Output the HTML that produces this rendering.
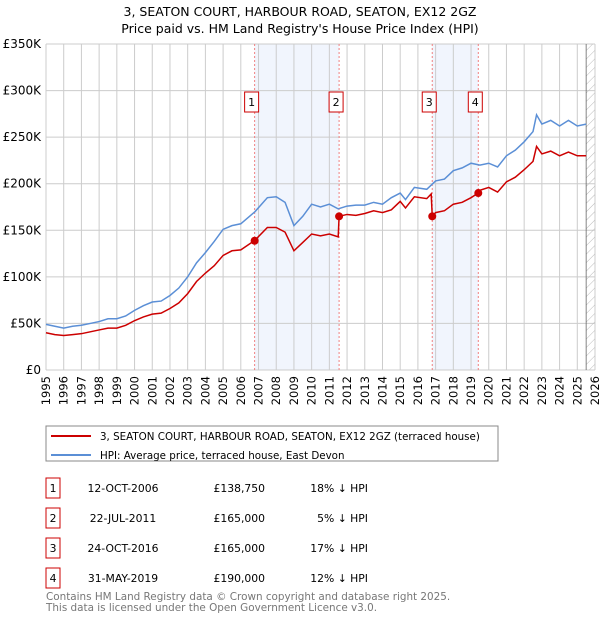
<!DOCTYPE html>
<html><head><meta charset="utf-8"><style>
body{margin:0;background:#fff;width:600px;height:620px;overflow:hidden;font-family:"DejaVu Sans","Liberation Sans",sans-serif}
svg text{font-family:"DejaVu Sans","Liberation Sans",sans-serif}
</style></head><body>
<svg id="c" width="600" height="620" xmlns="http://www.w3.org/2000/svg">
<defs><pattern id="hatch" width="6" height="6" patternUnits="userSpaceOnUse" patternTransform="rotate(45)"><line x1="0" y1="0" x2="0" y2="6" stroke="#bbb" stroke-width="1"/></pattern></defs>
<text x="300" y="16" text-anchor="middle" font-size="12.5">3, SEATON COURT, HARBOUR ROAD, SEATON, EX12 2GZ</text>
<text x="300" y="33" text-anchor="middle" font-size="12.5">Price paid vs. HM Land Registry's House Price Index (HPI)</text>
<g id="plot"></g>
<rect x="46" y="426" width="452" height="35" fill="#fff" stroke="#888"/>
<line x1="51" y1="436" x2="91" y2="436" stroke="#cc0000" stroke-width="2"/>
<text x="100" y="440" font-size="10.3">3, SEATON COURT, HARBOUR ROAD, SEATON, EX12 2GZ (terraced house)</text>
<line x1="51" y1="455" x2="91" y2="455" stroke="#5b8fd6" stroke-width="2"/>
<text x="100" y="459" font-size="10.3">HPI: Average price, terraced house, East Devon</text>
<g id="table" font-size="10.8"></g>
<text x="46" y="600" font-size="10.4" fill="#777">Contains HM Land Registry data © Crown copyright and database right 2025.</text>
<text x="46" y="611" font-size="10.4" fill="#777">This data is licensed under the Open Government Licence v3.0.</text>
</svg>
<script>
const hpiYears=[1995,1995.5,1996,1996.5,1997,1997.5,1998,1998.5,1999,1999.5,2000,2000.5,2001,2001.5,2002,2002.5,2003,2003.5,2004,2004.5,2005,2005.5,2006,2006.8,2007.5,2008,2008.5,2009,2009.5,2010,2010.5,2011,2011.5,2012,2012.5,2013,2013.5,2014,2014.5,2015,2015.3,2015.8,2016.5,2017,2017.5,2018,2018.5,2019,2019.5,2020,2020.5,2021,2021.5,2022,2022.5,2022.7,2023,2023.5,2024,2024.5,2025,2025.5];
const hpiValues=[49,47,45,47,48,50,52,55,55,58,64,69,73,74,80,88,100,115,126,138,151,155,157,170,185,186,180,155,165,178,175,178,173,176,177,177,180,178,185,190,183,196,194,203,205,214,217,222,220,222,218,230,236,245,256,274,264,268,262,268,262,264];
const redYears=[1995,1995.5,1996,1996.5,1997,1997.5,1998,1998.5,1999,1999.5,2000,2000.5,2001,2001.5,2002,2002.5,2003,2003.5,2004,2004.5,2005,2005.5,2006,2006.78,2007.5,2008,2008.5,2009,2009.5,2010,2010.5,2011,2011.5,2011.55,2012,2012.5,2013,2013.5,2014,2014.5,2015,2015.3,2015.8,2016.5,2016.75,2016.81,2017,2017.5,2018,2018.5,2019,2019.41,2019.5,2020,2020.5,2021,2021.5,2022,2022.5,2022.7,2023,2023.5,2024,2024.5,2025,2025.5];
const redValues=[40,38,37,38,39,41,43,45,45,48,53,57,60,61,66,72,82,95,104,112,123,128,129,139,153,153,148,128,137,146,144,146,143,165,167,166,168,171,169,172,181,174,186,184,189,165,169,171,178,180,185,190,193,196,191,202,207,215,224,240,232,235,230,234,230,230];
const saleYears=[2006.78,2011.55,2016.81,2019.41];
const salePrices=[138.75,165,165,190];
const saleLabels=["1","2","3","4"];
const saleDates=["12-OCT-2006","22-JUL-2011","24-OCT-2016","31-MAY-2019"];
const salePriceText=["£138,750","£165,000","£165,000","£190,000"];
const saleHpiText=["18% ↓ HPI","5% ↓ HPI","17% ↓ HPI","12% ↓ HPI"];
const yTicks=[0,50,100,150,200,250,300,350];
const yTickLabels=["£0","£50K","£100K","£150K","£200K","£250K","£300K","£350K"];

const NS="http://www.w3.org/2000/svg";
const X0=46,X1=595,Y0=370,Y1=44,YR0=1995,YR1=2026;
const xs=y=>X0+(y-YR0)/(YR1-YR0)*(X1-X0);
const ys=v=>Y0-v/350*(Y0-Y1);
const plot=document.getElementById('plot');
function mk(tag,attrs,parent){const e=document.createElementNS(NS,tag);for(const k in attrs)e.setAttribute(k,attrs[k]);(parent||plot).appendChild(e);return e;}
mk('rect',{x:X0,y:Y1,width:X1-X0,height:Y0-Y1,fill:'#fff'});
for(let i=0;i<saleYears.length;i+=2){
 const r=mk('rect',{x:xs(saleYears[i]),y:Y1,width:xs(saleYears[i+1])-xs(saleYears[i]),height:Y0-Y1,fill:'#eef3fc',opacity:0.8});
 
 
}
for(let y=YR0;y<=YR1;y++){
 const l=mk('line',{x1:xs(y),x2:xs(y),y1:Y1,y2:Y0,stroke:'#ccc','stroke-width':1});
 
 
 const t=mk('text',{x:0,y:0,'font-size':11.5,'text-anchor':'end',transform:`translate(${xs(y)+4},${Y0+6}) rotate(-90)`});
 t.textContent=y;
 
 
}
yTicks.forEach((v,i)=>{
 const l=mk('line',{x1:X0,x2:X1,y1:ys(v),y2:ys(v),stroke:'#ccc','stroke-width':1});
 
 
 const t=mk('text',{x:X0-5,y:ys(v)+4,'font-size':12,'text-anchor':'end'});
 t.textContent=yTickLabels[i];
 
 
});
const h=mk('rect',{x:xs(2025.5),y:Y1,width:X1-xs(2025.5),height:Y0-Y1,fill:'url(#hatch)'});


mk('line',{x1:xs(2025.5),x2:xs(2025.5),y1:Y1,y2:Y0,stroke:'#666','stroke-width':0.8});
saleYears.forEach((y,i)=>{
 const l=mk('line',{x1:xs(y),x2:xs(y),y1:Y1,y2:Y0,stroke:'#f08080','stroke-width':1,'stroke-dasharray':'2,2'});
 
 
 const b=mk('rect',{x:xs(y)-10,y:92,width:14,height:20,fill:'#fff',stroke:'#cc0000'});
 
 
 const t=mk('text',{x:xs(y)-3,y:106,'font-size':11,'text-anchor':'middle'});
 t.textContent=saleLabels[i];
 
 
});
const hp=mk('polyline',{points:hpiYears.map((y,i)=>xs(y)+','+ys(hpiValues[i])).join(' '),fill:'none',stroke:'#5b8fd6','stroke-width':1.5});


const rp=mk('polyline',{points:redYears.map((y,i)=>xs(y)+','+ys(redValues[i])).join(' '),fill:'none',stroke:'#cc0000','stroke-width':1.5});


saleYears.forEach((y,i)=>{
 const c=mk('circle',{cx:xs(y),cy:ys(salePrices[i]),r:4,fill:'#cc0000'});
 
 
});
const tb=document.getElementById('table');
saleLabels.forEach((s,i)=>{
 const yy=492+i*30;
 const b=mk('rect',{x:46,y:yy-14,width:14,height:20,fill:'#fff',stroke:'#cc0000'},tb);
 
 
 const t0=mk('text',{x:53,y:yy,'text-anchor':'middle'},tb);t0.textContent=s;
 
 
 const t1=mk('text',{x:123,y:yy,'text-anchor':'middle'},tb);t1.textContent=saleDates[i];
 
 
 const t2=mk('text',{x:265,y:yy,'text-anchor':'end'},tb);t2.textContent=salePriceText[i];
 
 
 const t3=mk('text',{x:368,y:yy,'text-anchor':'end'},tb);t3.textContent=saleHpiText[i];
 
 
});
</script>
</body></html>
